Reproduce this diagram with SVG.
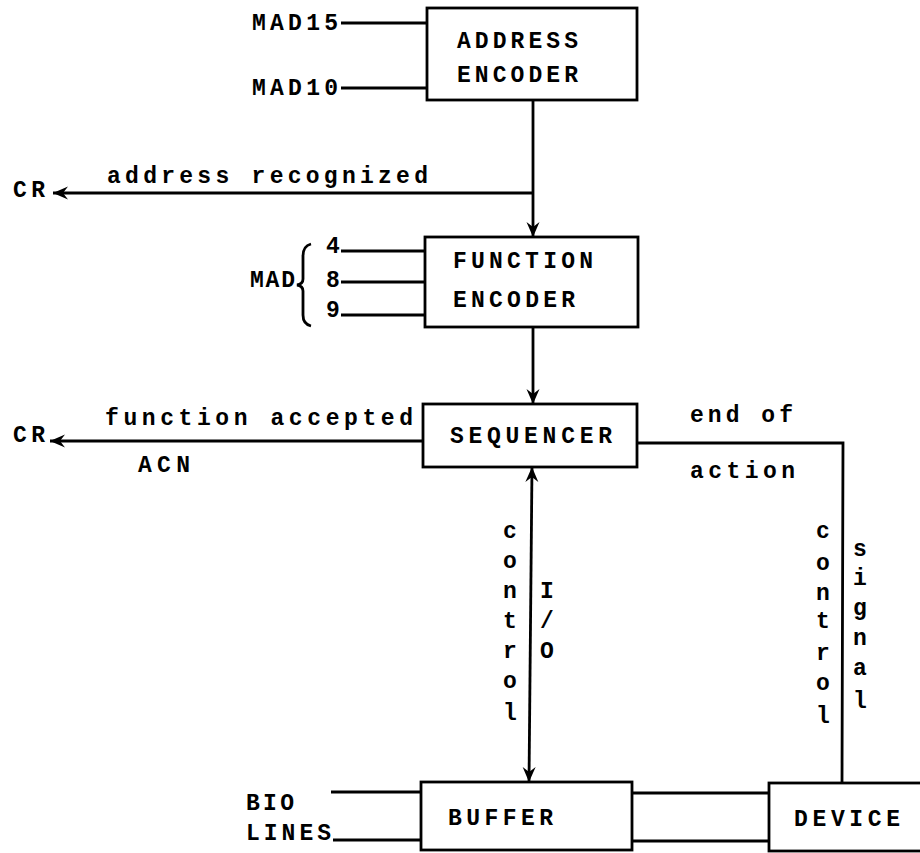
<svg xmlns="http://www.w3.org/2000/svg" width="920" height="853" viewBox="0 0 920 853">
<style>
  text { font-family: "Liberation Mono", "Courier New", monospace; font-weight: bold; fill: #000; font-size: 23px; }
  .v { text-anchor: middle; }
  .box { fill: #fff; stroke: #000; stroke-width: 2.8; }
  .ln { fill: none; stroke: #000; stroke-width: 2.8; }
</style>
<defs>
  <marker id="ah" markerUnits="userSpaceOnUse" markerWidth="18" markerHeight="14" refX="15" refY="6.5" orient="auto-start-reverse">
    <path d="M0,0 L15,6.5 L0,13 L5,6.5 z" fill="#000"/>
  </marker>
</defs>
<rect width="920" height="853" fill="#fff"/>

<g id="connectors">
  <line class="ln" x1="341" y1="23" x2="427" y2="23"/>
  <line class="ln" x1="341" y1="88" x2="427" y2="88"/>
  <line class="ln" x1="533" y1="100" x2="533" y2="237" marker-end="url(#ah)"/>
  <line class="ln" x1="533" y1="193" x2="53" y2="193" marker-end="url(#ah)"/>
  <line class="ln" x1="341" y1="251" x2="425" y2="251"/>
  <line class="ln" x1="341" y1="282" x2="425" y2="282"/>
  <line class="ln" x1="341" y1="315" x2="425" y2="315"/>
  <path class="ln" d="M311,244 Q303,246 303,256 L303,279 Q303,284 297,285 Q303,286 303,291 L303,315 Q303,324 311,326" stroke-width="2.2"/>
  <line class="ln" x1="533" y1="327" x2="533" y2="404" marker-end="url(#ah)"/>
  <line class="ln" x1="423" y1="441" x2="50" y2="441" marker-end="url(#ah)"/>
  <line class="ln" x1="532" y1="467" x2="529" y2="782" marker-start="url(#ah)" marker-end="url(#ah)"/>
  <polyline class="ln" points="637,443 843,443 842,783"/>
  <line class="ln" x1="331" y1="792" x2="421" y2="792"/>
  <line class="ln" x1="333" y1="840" x2="421" y2="840"/>
  <line class="ln" x1="632" y1="793" x2="769" y2="793"/>
  <line class="ln" x1="632" y1="841" x2="769" y2="841"/>
</g>

<g id="address-encoder">
  <rect class="box" x="427" y="8" width="210" height="92"/>
  <text x="457" y="48" textLength="121">ADDRESS</text>
  <text x="457" y="82" textLength="121">ENCODER</text>
</g>
<g id="address-inputs">
  <text x="252" y="30" textLength="86">MAD15</text>
  <text x="252" y="95" textLength="86">MAD10</text>
</g>
<g id="address-recognized">
  <text x="13" y="197" textLength="32">CR</text>
  <text x="107" y="183" textLength="321">address recognized</text>
</g>

<g id="function-encoder">
  <rect class="box" x="425" y="237" width="213" height="90"/>
  <text x="453" y="268" textLength="140">FUNCTION</text>
  <text x="453" y="307" textLength="122">ENCODER</text>
</g>
<g id="mad-inputs">
  <text x="250" y="287" textLength="45">MAD</text>
  <text x="326" y="253">4</text>
  <text x="326" y="287">8</text>
  <text x="326" y="317">9</text>
</g>

<g id="sequencer">
  <rect class="box" x="423" y="404" width="214" height="63"/>
  <text x="450" y="443" textLength="162">SEQUENCER</text>
</g>
<g id="function-accepted">
  <text x="13" y="442" textLength="32">CR</text>
  <text x="105" y="425" textLength="308">function accepted</text>
  <text x="138" y="472" textLength="52">ACN</text>
</g>
<g id="end-of-action">
  <text x="690" y="422" textLength="103">end of</text>
  <text x="690" y="478" textLength="105">action</text>
</g>

<g id="io-control-label">
  <text class="v" x="510" y="538">c</text>
  <text class="v" x="510" y="568">o</text>
  <text class="v" x="510" y="598">n</text>
  <text class="v" x="510" y="628">t</text>
  <text class="v" x="510" y="658">r</text>
  <text class="v" x="510" y="688">o</text>
  <text class="v" x="510" y="720">l</text>
  <text class="v" x="547" y="598">I</text>
  <text class="v" x="547" y="628">/</text>
  <text class="v" x="547" y="658">O</text>
</g>
<g id="control-signal-label">
  <text class="v" x="823" y="538">c</text>
  <text class="v" x="823" y="570">o</text>
  <text class="v" x="823" y="600">n</text>
  <text class="v" x="823" y="628">t</text>
  <text class="v" x="823" y="660">r</text>
  <text class="v" x="823" y="690">o</text>
  <text class="v" x="823" y="723">l</text>
  <text class="v" x="860" y="556">s</text>
  <text class="v" x="860" y="585">i</text>
  <text class="v" x="860" y="615">g</text>
  <text class="v" x="860" y="645">n</text>
  <text class="v" x="860" y="675">a</text>
  <text class="v" x="860" y="708">l</text>
</g>

<g id="bio-lines">
  <text x="246" y="810" textLength="48">BIO</text>
  <text x="246" y="840" textLength="85">LINES</text>
</g>
<g id="buffer">
  <rect class="box" x="421" y="782" width="211" height="68"/>
  <text x="448" y="825" textLength="105">BUFFER</text>
</g>
<g id="device">
  <rect class="box" x="769" y="783" width="160" height="68"/>
  <text x="794" y="826" textLength="106">DEVICE</text>
</g>
</svg>
